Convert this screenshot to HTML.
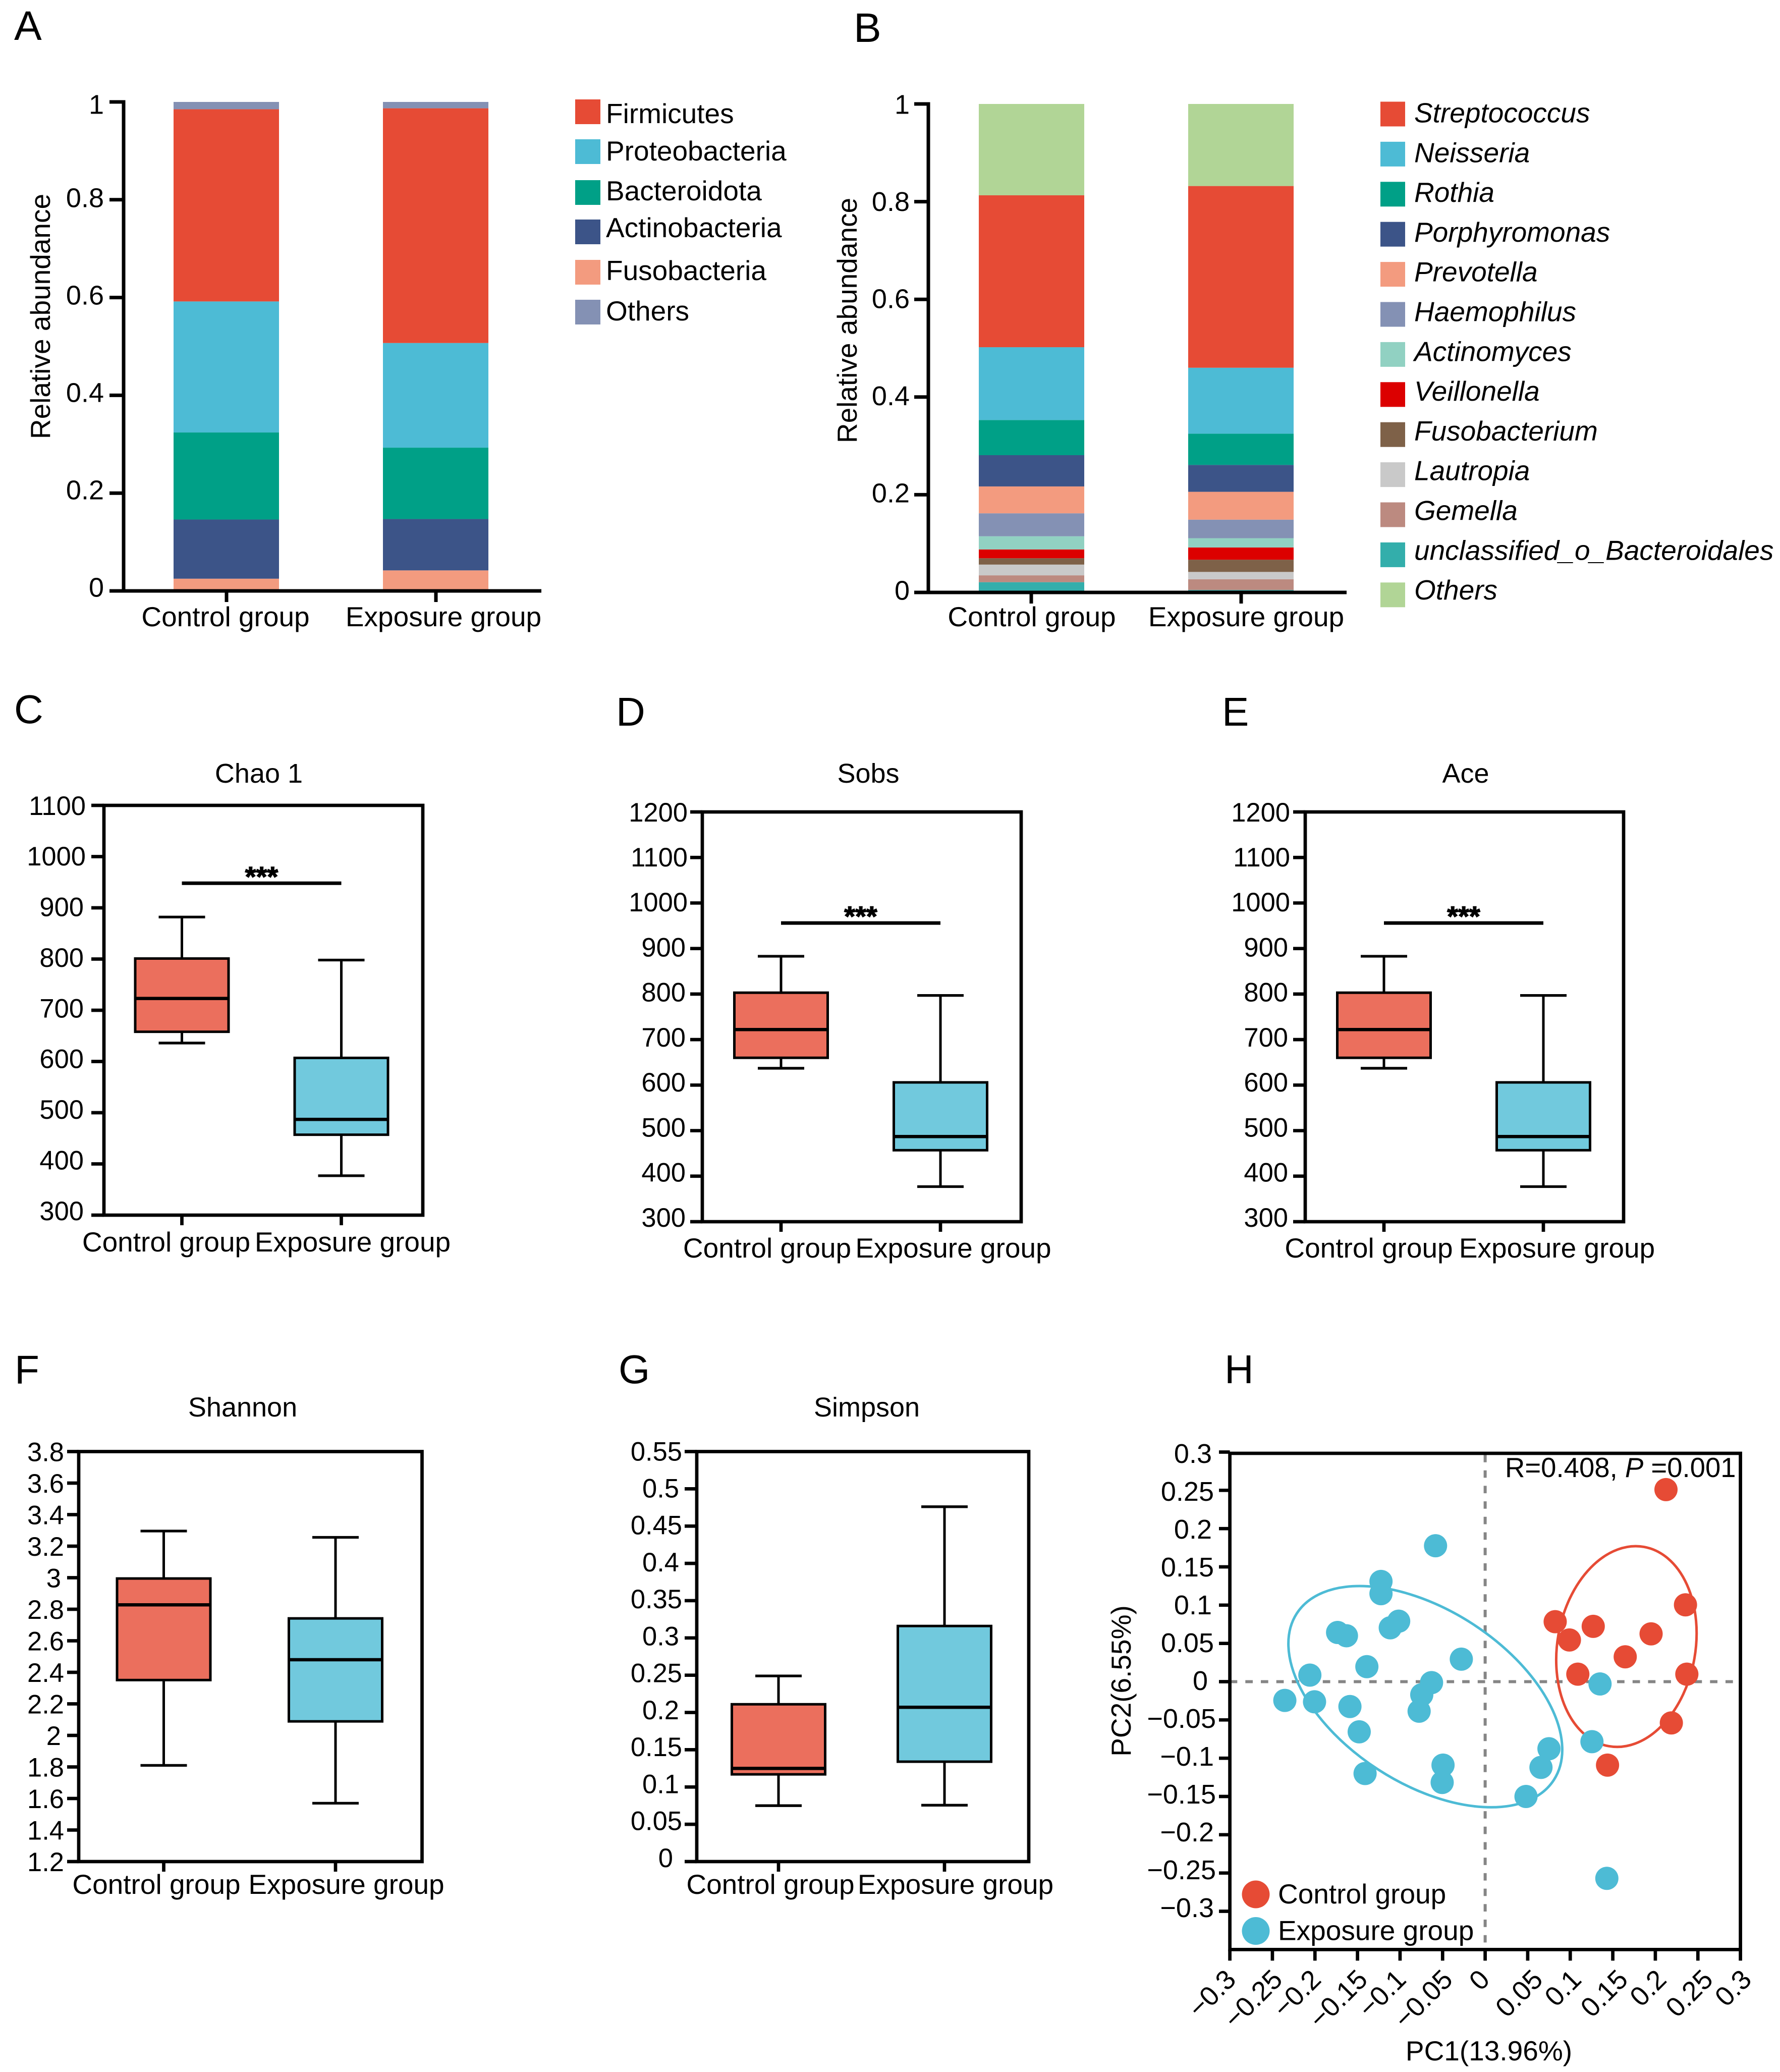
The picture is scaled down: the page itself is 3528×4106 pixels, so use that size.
<!DOCTYPE html>
<html lang="en">
<head>
<meta charset="utf-8">
<title>Microbiome composition and diversity figure</title>
<style>
html,body{margin:0;padding:0;background:#fff;}
svg{display:block;font-family:"Liberation Sans",Arial,sans-serif;fill:#000;}
</style>
</head>
<body>
<svg id="figure" xmlns="http://www.w3.org/2000/svg" width="3528" height="4106" viewBox="0 0 3528 4106">
  <rect width="3528" height="4106" fill="#fff"/>

  <g id="panelA">
    <text x="28" y="79" font-size="82">A</text>
    <text transform="translate(99,627) rotate(-90)" text-anchor="middle" font-size="55">Relative abundance</text>
  </g>
  <g id="panelB">
    <text x="1692" y="83" font-size="82">B</text>
    <text transform="translate(1698,635) rotate(-90)" text-anchor="middle" font-size="55">Relative abundance</text>
  </g>
  <g id="panelC">
    <text x="28" y="1433" font-size="80">C</text>
    <text x="513" y="1551" text-anchor="middle" font-size="54">Chao 1</text>
  </g>
  <g id="panelD">
    <text x="1221" y="1438" font-size="80">D</text>
    <text x="1721" y="1551" text-anchor="middle" font-size="54">Sobs</text>
  </g>
  <g id="panelE">
    <text x="2422" y="1438" font-size="80">E</text>
    <text x="2905" y="1551" text-anchor="middle" font-size="54">Ace</text>
  </g>
  <g id="panelF">
    <text x="29" y="2742" font-size="80">F</text>
    <text x="481" y="2807" text-anchor="middle" font-size="54">Shannon</text>
  </g>
  <g id="panelG">
    <text x="1226" y="2741" font-size="80">G</text>
    <text x="1718" y="2807" text-anchor="middle" font-size="54">Simpson</text>
  </g>
  <g id="panelH">
    <text x="2427" y="2741" font-size="80">H</text>
    <text x="2951" y="4083" text-anchor="middle" font-size="55">PC1(13.96%)</text>
    <text transform="translate(2241,3331) rotate(-90)" text-anchor="middle" font-size="55">PC2(6.55%)</text>
  </g>
</svg>

<script>
// ---------- Categories ----------
const groupNames = ['Control group', 'Exposure group'];

// ---------- Panel A: phylum composition (legend order) ----------
const phylumNames = ['Firmicutes', 'Proteobacteria', 'Bacteroidota', 'Actinobacteria', 'Fusobacteria', 'Others'];
const phylumControl = [0.393, 0.268, 0.178, 0.121, 0.025, 0.015];
const phylumExposure = [0.480, 0.214, 0.146, 0.105, 0.042, 0.013];
const phylumColors = ['#E64B35', '#4DBBD5', '#00A087', '#3C5488', '#F39B7F', '#8491B4'];
const abundanceTicks = [0, 0.2, 0.4, 0.6, 0.8, 1];

// ---------- Panel B: genus composition (legend order) ----------
const genusNames = ['Streptococcus', 'Neisseria', 'Rothia', 'Porphyromonas', 'Prevotella', 'Haemophilus', 'Actinomyces', 'Veillonella', 'Fusobacterium', 'Lautropia', 'Gemella', 'unclassified_o_Bacteroidales', 'Others'];
const genusControl = [0.311, 0.149, 0.072, 0.064, 0.055, 0.047, 0.027, 0.018, 0.013, 0.022, 0.014, 0.021, 0.187];
const genusExposure = [0.372, 0.135, 0.064, 0.055, 0.057, 0.038, 0.019, 0.025, 0.025, 0.015, 0.022, 0.005, 0.168];
const genusColors = ['#E64B35', '#4DBBD5', '#00A087', '#3C5488', '#F39B7F', '#8491B4', '#91D1C2', '#DC0000', '#7E6148', '#C9C9C9', '#BC8A80', '#33AEAB', '#B1D596'];

// ---------- Box plots: [min, Q1, median, Q3, max] ----------
const chaoControl = [636, 658, 723, 801, 882];
const chaoExposure = [377, 457, 487, 607, 798];
const chaoTicks = [300, 400, 500, 600, 700, 800, 900, 1000, 1100];
const chaoSignificance = 948;

const sobsControl = [637, 660, 722, 803, 883];
const sobsExposure = [377, 457, 487, 606, 797];
const sobsTicks = [300, 400, 500, 600, 700, 800, 900, 1000, 1100, 1200];
const sobsSignificance = 956;

const aceControl = [637, 660, 722, 803, 883];
const aceExposure = [377, 457, 487, 606, 797];
const aceTicks = [300, 400, 500, 600, 700, 800, 900, 1000, 1100, 1200];
const aceSignificance = 956;

const shannonControl = [1.81, 2.351, 2.828, 2.995, 3.296];
const shannonExposure = [1.57, 2.089, 2.48, 2.742, 3.256];
const shannonTicks = [1.2, 1.4, 1.6, 1.8, 2, 2.2, 2.4, 2.6, 2.8, 3, 3.2, 3.4, 3.6, 3.8];

const simpsonControl = [0.075, 0.117, 0.125, 0.211, 0.249];
const simpsonExposure = [0.0756, 0.134, 0.207, 0.316, 0.476];
const simpsonTicks = [0, 0.05, 0.1, 0.15, 0.2, 0.25, 0.3, 0.35, 0.4, 0.45, 0.5, 0.55];

// ---------- Panel H: PCoA scores ----------
const pc1Control = [0.2125, 0.0823, 0.099, 0.127, 0.195, 0.2354, 0.1646, 0.1089, 0.237, 0.2188, 0.1438];
const pc2Control = [0.251, 0.0784, 0.0545, 0.0723, 0.0625, 0.1004, 0.0325, 0.0098, 0.0098, -0.0539, -0.109];
const pc1Exposure = [-0.0583, -0.1224, -0.1224, -0.1016, -0.1115, -0.1734, -0.163, -0.139, -0.028, -0.206, -0.063, -0.0745, -0.0776, -0.2354, -0.2005, -0.1589, -0.148, -0.1411, -0.0495, -0.0505, 0.075, 0.0656, 0.048, 0.135, 0.1255, 0.143];
const pc2Exposure = [0.1776, 0.131, 0.115, 0.079, 0.0704, 0.0643, 0.06, 0.0196, 0.0294, 0.0086, -0.0012, -0.0171, -0.0386, -0.0245, -0.0263, -0.0325, -0.0655, -0.12, -0.109, -0.1317, -0.0876, -0.112, -0.15, -0.003, -0.0784, -0.257];
const pcTicks = [-0.3, -0.25, -0.2, -0.15, -0.1, -0.05, 0, 0.05, 0.1, 0.15, 0.2, 0.25, 0.3];
const pcLegendColors = ['#E64B35', '#4DBBD5'];

// ---------- Helpers ----------
const NS = 'http://www.w3.org/2000/svg';
function mk(parent, tag, name, props) {
  const el = document.createElementNS(NS, tag);
  for (const k in props) el.setAttribute(k, props[k]);
  
  
  parent.appendChild(el);
  return el;
}
function line(parent, name, x1, y1, x2, y2, w, extra) {
  return mk(parent, 'line', name, Object.assign({x1, y1, x2, y2, stroke: '#000', 'stroke-width': w}, extra || {}));
}
function label(parent, name, str, x, y, size, anchor, extra) {
  const el = mk(parent, 'text', name, Object.assign({x, y, 'font-size': size, 'text-anchor': anchor || 'middle'}, extra || {}));
  el.textContent = str;
  return el;
}
function linear(d0, d1, r0, r1) {
  return v => r0 + (v - d0) * (r1 - r0) / (d1 - d0);
}
function fmt(v) { return String(v).replace('-', '\u2212'); }
function slug(s) { return String(s).toLowerCase().replace(/[^a-z0-9]+/g, '-').replace(/^-|-$/g, ''); }

// y tick labels: small drift from the tick is part of the original figure's layout
function yTickLabels(g, ticks, y, L) {
  const lo = ticks[0], hi = ticks[ticks.length - 1];
  const maxLen = Math.max.apply(null, ticks.map(t => fmt(t).length));
  ticks.forEach(t => {
    const s = fmt(t);
    const f = (t - lo) / (hi - lo);
    let off = L.offBottom + (L.offTop - L.offBottom) * f;
    if (t === hi && L.topExtra) off += L.topExtra;
    const rx = L.edge - (maxLen - s.length) * L.k;
    label(g, 'y-tick-label-' + slug(s), s, rx, y(t) + off + 0.358 * L.size, L.size, 'end');
  });
}

// ---------- Stacked bars ----------
function drawStack(g, C, names, colors, control, exposure) {
  const y = linear(0, 1, C.y0, C.y1);
  [control, exposure].forEach((vals, gi) => {
    const order = [];
    for (let i = vals.length - 2; i >= 0; i--) order.push(i);
    order.push(vals.length - 1);
    let cum = 0;
    order.forEach(i => {
      const top = y(cum + vals[i]);
      const bot = y(cum);
      mk(g, 'rect', 'bar-' + slug(groupNames[gi]) + '-' + slug(names[i]), {
        x: C.barX[gi], y: top, width: C.barW, height: bot - top, fill: colors[i]
      });
      cum += vals[i];
    });
  });
  // axes
  line(g, 'y-axis', C.axisX, C.y1 - 3.5, C.axisX, C.y0 + 3.5, 7);
  line(g, 'x-axis', C.tickL, C.y0, C.axisR, C.y0, 7);
  abundanceTicks.forEach(t => {
    line(g, 'y-tick-' + slug(t), C.tickL, y(t), C.axisX, y(t), 7);
  });
  yTickLabels(g, abundanceTicks, y, {edge: C.labelEdge, k: 0, size: 54, offTop: C.offTop, offBottom: C.offBottom, topExtra: C.topExtra});
  groupNames.forEach((n, i) => {
    line(g, 'x-tick-' + slug(n), C.catX[i], C.y0, C.catX[i], C.y0 + 22, 7);
    label(g, 'x-tick-label-' + slug(n), n, C.catLabelX[i], C.catLabelY, 55);
  });
  // legend
  names.forEach((n, i) => {
    mk(g, 'rect', 'legend-swatch-' + slug(n), {x: C.legX, y: C.legY(i), width: C.legW, height: C.legH, fill: colors[i]});
    label(g, 'legend-entry-' + slug(n), n, C.legTextX, C.legText(i), 55, 'start', C.italic ? {'font-style': 'italic'} : {});
  });
}

drawStack(document.getElementById('panelA'), {
  y0: 1171, y1: 202, axisX: 245, axisR: 1073, tickL: 217,
  barX: [344, 759], barW: 209, catX: [449, 864], catLabelX: [447, 879], catLabelY: 1241,
  labelEdge: 206, offTop: -4, offBottom: -8, topExtra: 8,
  legX: 1140, legW: 50, legH: 49,
  legY: i => [197, 276, 357, 435, 515, 594][i],
  legText: i => [244, 318, 397, 470, 555, 635][i],
  legTextX: 1201, italic: false
}, phylumNames, phylumColors, phylumControl, phylumExposure);

drawStack(document.getElementById('panelB'), {
  y0: 1174, y1: 206, axisX: 1840, axisR: 2669, tickL: 1812,
  barX: [1940, 2355], barW: 209, catX: [2044, 2460], catLabelX: [2045, 2470], catLabelY: 1241,
  labelEdge: 1803, offTop: 0, offBottom: -5, topExtra: 0,
  legX: 2736, legW: 49, legH: 49,
  legY: i => 201.5 + i * 79.4,
  legText: i => 242.5 + i * 78.8,
  legTextX: 2803, italic: true
}, genusNames, genusColors, genusControl, genusExposure);

// ---------- Box plots ----------
function drawBox(g, C, ticks, control, exposure, sig) {
  const lo = ticks[0], hi = ticks[ticks.length - 1];
  const y = linear(lo, hi, C.bottom, C.top);
  const fills = ['#EB6F5D', '#71C9DD'];
  [control, exposure].forEach((b, i) => {
    const cx = C.catX[i];
    const n = slug(groupNames[i]);
    line(g, 'whisker-' + n, cx, y(b[4]), cx, y(b[0]), 5);
    line(g, 'whisker-cap-max-' + n, cx - 46, y(b[4]), cx + 46, y(b[4]), 5.3);
    line(g, 'whisker-cap-min-' + n, cx - 46, y(b[0]), cx + 46, y(b[0]), 5.3);
    mk(g, 'rect', 'box-' + n, {
      x: cx - 92.5, y: y(b[3]), width: 185, height: y(b[1]) - y(b[3]),
      fill: fills[i], stroke: '#000', 'stroke-width': 5
    });
    line(g, 'median-' + n, cx - 92.5, y(b[2]), cx + 92.5, y(b[2]), 6.5);
  });
  mk(g, 'rect', 'plot-frame', {
    x: C.left, y: C.top, width: C.right - C.left, height: C.bottom - C.top,
    fill: 'none', stroke: '#000', 'stroke-width': 6.7
  });
  ticks.forEach(t => {
    line(g, 'y-tick-' + slug(t), C.tickL, y(t), C.left, y(t), 6.7);
  });
  yTickLabels(g, ticks, y, {edge: C.labelEdge, k: C.k, size: 52.5, offTop: C.offTop, offBottom: C.offBottom});
  groupNames.forEach((n, i) => {
    line(g, 'x-tick-' + slug(n), C.catX[i], C.bottom, C.catX[i], C.bottom + 20, 6.7);
    label(g, 'x-tick-label-' + slug(n), n, C.catLabelX[i], C.catLabelY, 55);
  });
  if (sig !== undefined) {
    line(g, 'significance-bar', C.catX[0], y(sig), C.catX[1], y(sig), 7);
    label(g, 'significance-stars', '***', (C.catX[0] + C.catX[1]) / 2, y(sig) + 6, 56, 'middle', {'font-weight': 'bold', stroke: '#000', 'stroke-width': 1.5});
  }
}

drawBox(document.getElementById('panelC'), {
  left: 206, right: 838, top: 1596, bottom: 2408, tickL: 181, catX: [360.5, 676.5],
  catLabelX: [329.5, 699], catLabelY: 2480, labelEdge: 170, k: 4, offTop: 0, offBottom: -9
}, chaoTicks, chaoControl, chaoExposure, chaoSignificance);

drawBox(document.getElementById('panelD'), {
  left: 1392, right: 2024, top: 1609, bottom: 2421, tickL: 1368, catX: [1548, 1864],
  catLabelX: [1520.5, 1889.5], catLabelY: 2492, labelEdge: 1363, k: 4, offTop: 0, offBottom: -9
}, sobsTicks, sobsControl, sobsExposure, sobsSignificance);

drawBox(document.getElementById('panelE'), {
  left: 2587, right: 3218, top: 1609, bottom: 2421, tickL: 2563, catX: [2743, 3059],
  catLabelX: [2713, 3086], catLabelY: 2492, labelEdge: 2557, k: 4, offTop: 0, offBottom: -9
}, aceTicks, aceControl, aceExposure, aceSignificance);

drawBox(document.getElementById('panelF'), {
  left: 156, right: 836.5, top: 2876.5, bottom: 3689, tickL: 133, catX: [324.5, 665],
  catLabelX: [310, 686.5], catLabelY: 3753, labelEdge: 127, k: 3, offTop: 0, offBottom: 0
}, shannonTicks, shannonControl, shannonExposure);

drawBox(document.getElementById('panelG'), {
  left: 1381, right: 2039, top: 2876.5, bottom: 3689, tickL: 1357, catX: [1543, 1872],
  catLabelX: [1527, 1894], catLabelY: 3753, labelEdge: 1352, k: 6, offTop: -1, offBottom: -8
}, simpsonTicks, simpsonControl, simpsonExposure);

// ---------- PCoA scatter ----------
(function drawPcoa() {
  const g = document.getElementById('panelH');
  const x = linear(-0.3, 0.3, 2437.6, 3449.6);
  const y = linear(-0.3, 0.3, 3787.5, 2877.5);
  const top = 2880, bottom = y(-0.35), left = x(-0.3), right = x(0.3);
  const dash = {stroke: '#858585', 'stroke-dasharray': '14.7 16'};
  line(g, 'zero-line-vertical', x(0), top + 3, x(0), bottom, 6, dash);
  line(g, 'zero-line-horizontal', left, y(0), right - 10, y(0), 6, dash);

  mk(g, 'ellipse', 'confidence-ellipse-control', {
    cx: x(0.166), cy: y(0.0459), rx: 136.8, ry: 200.5,
    transform: 'rotate(10 ' + x(0.166) + ' ' + y(0.0459) + ')',
    fill: 'none', stroke: pcLegendColors[0], 'stroke-width': 5
  });
  mk(g, 'ellipse', 'confidence-ellipse-exposure', {
    cx: x(-0.0703), cy: y(-0.0196), rx: 303.5, ry: 172,
    transform: 'rotate(32.9 ' + x(-0.0703) + ' ' + y(-0.0196) + ')',
    fill: 'none', stroke: pcLegendColors[1], 'stroke-width': 5
  });

  pc1Control.forEach((v, i) => {
    mk(g, 'circle', 'point-control', {cx: x(v), cy: y(pc2Control[i]), r: 23, fill: pcLegendColors[0]});
  });
  pc1Exposure.forEach((v, i) => {
    mk(g, 'circle', 'point-exposure', {cx: x(v), cy: y(pc2Exposure[i]), r: 23, fill: pcLegendColors[1]});
  });

  mk(g, 'rect', 'plot-frame', {
    x: left, y: top, width: right - left, height: bottom - top,
    fill: 'none', stroke: '#000', 'stroke-width': 6.7
  });
  pcTicks.forEach(t => {
    line(g, 'y-tick-' + slug(t), 2416, y(t), left, y(t), 6.7);
    line(g, 'x-tick-' + slug(t), x(t), bottom, x(t), bottom + 22, 6.7);
    const s = fmt(t);
    const twoDecimals = s.length > 1 && s.endsWith('5');
    const dx = t === 0 ? 12 : (t < 0 ? 15 : 25) + (twoDecimals ? 8 : 0);
    const ax = x(t) + dx;
    const ay = 3926;
    label(g, 'x-tick-label-' + slug(s), s, ax, ay, 54, 'end', {transform: 'rotate(-45 ' + ax + ' ' + ay + ')'});
  });
  yTickLabels(g, pcTicks, y, {edge: 2410, k: 4, size: 54, offTop: 2, offBottom: -8});

  groupNames.forEach((n, i) => {
    const cy = [3754, 3826.5][i];
    mk(g, 'circle', 'legend-marker-' + slug(n), {cx: 2489, cy: cy, r: 27.5, fill: pcLegendColors[i]});
    label(g, 'legend-entry-' + slug(n), n, 2533, cy + 18, 55, 'start');
  });

  const note = mk(g, 'text', 'statistics-annotation', {x: 2983, y: 2927, 'font-size': 54.5});
  note.innerHTML = 'R=0.408, <tspan font-style="italic">P</tspan> =0.001';
})();
</script>
</body>
</html>
